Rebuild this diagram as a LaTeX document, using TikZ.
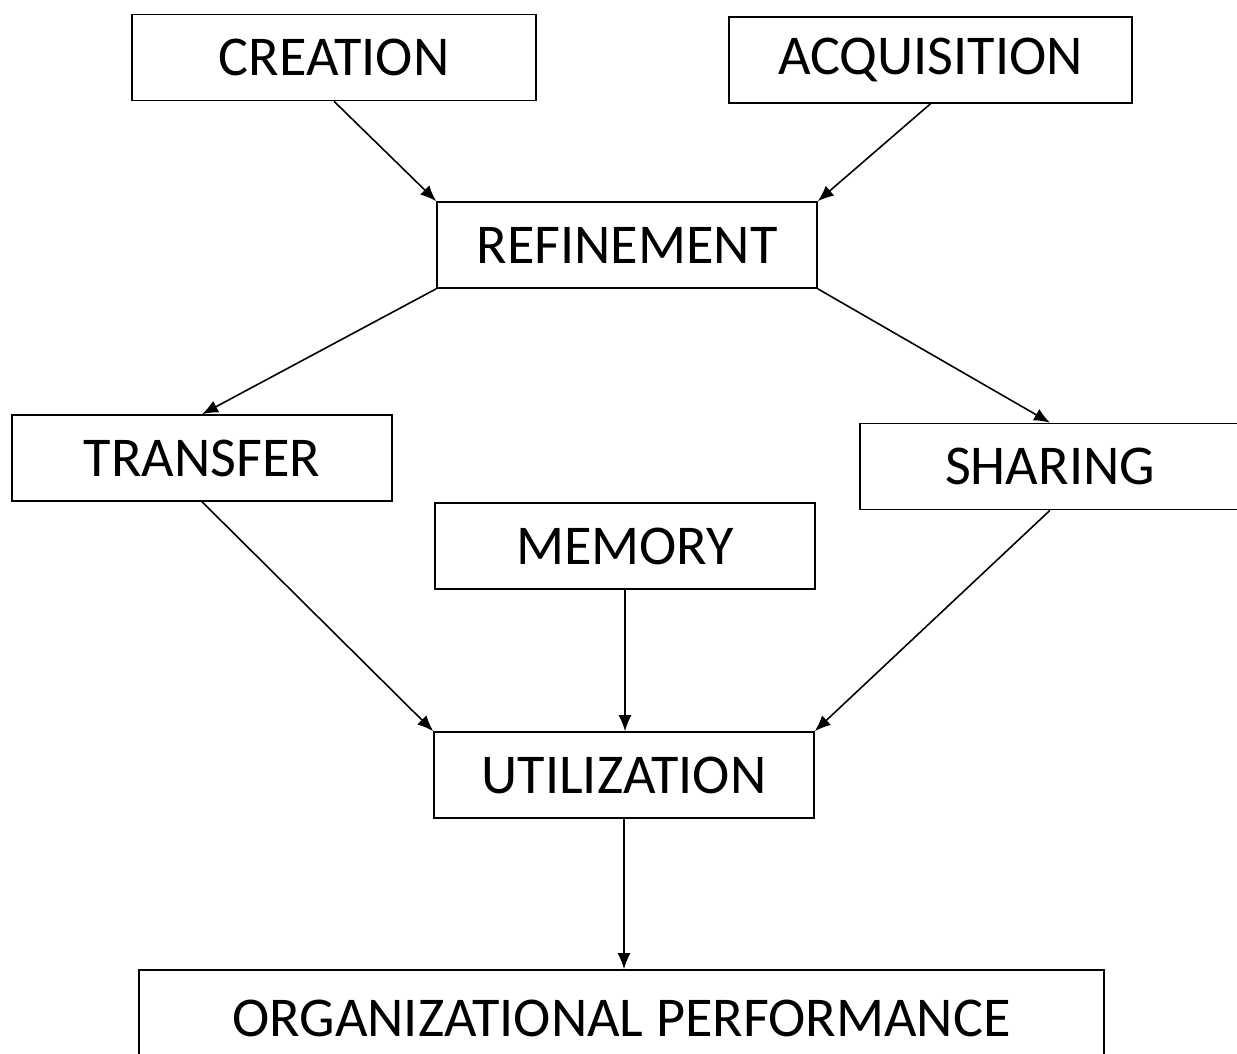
\documentclass[tikz,border=0pt]{standalone}
\usepackage{fontspec}
\setmainfont{Carlito}
\usetikzlibrary{arrows.meta}
\tikzset{
  box/.style={draw=black, line width=0.9pt, fill=white, align=center, inner sep=0pt,
              minimum height=1.72cm, font=\fontsize{32}{36}\selectfont},
  arrow/.style={-{Latex[length=3.2mm, width=2.6mm]}, line width=0.9pt, draw=black}
}
\begin{document}
\begin{tikzpicture}[x=0.02cm, y=-0.02cm]
\useasboundingbox (0,0) rectangle (1237,1054);
\node[box, minimum width=8.08cm] (creation) at (334,57.5) {CREATION};
\node[box, minimum width=8.06cm] (acquisition) at (930.5,60) {ACQUISITION};
\node[box, minimum width=7.6cm] (refinement) at (627,245) {REFINEMENT};
\node[box, minimum width=7.6cm] (transfer) at (202,458) {TRANSFER};
\node[box, minimum width=7.6cm] (sharing) at (1050,466.5) {SHARING};
\node[box, minimum width=7.6cm] (memory) at (625,546) {MEMORY};
\node[box, minimum width=7.6cm] (utilization) at (624,775) {UTILIZATION};
\node[box, minimum width=19.3cm, minimum height=1.92cm] (performance) at (621.5,1018) {ORGANIZATIONAL PERFORMANCE};
\draw[arrow] (creation.south) -- (refinement.north west);
\draw[arrow] (acquisition.south) -- (refinement.north east);
\draw[arrow] (refinement.south west) -- (transfer.north);
\draw[arrow] (refinement.south east) -- (sharing.north);
\draw[arrow] (transfer.south) -- (utilization.north west);
\draw[arrow] (memory.south) -- (memory.south |- utilization.north);
\draw[arrow] (sharing.south) -- (utilization.north east);
\draw[arrow] (utilization.south) -- (utilization.south |- performance.north);
\end{tikzpicture}
\end{document}
